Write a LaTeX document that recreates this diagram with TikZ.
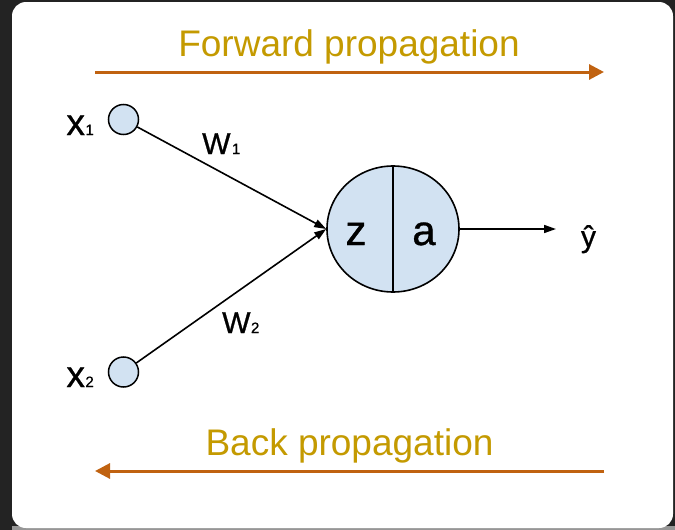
\documentclass[tikz,border=0pt]{standalone}
\usepackage{fontspec}
\setmainfont{Liberation Sans}
\newfontfamily\labfont[FakeBold=0.8]{Liberation Sans}
\usetikzlibrary{arrows.meta,shapes.geometric}
\definecolor{framedark}{RGB}{35,35,35}
\definecolor{framegray}{RGB}{150,150,150}
\definecolor{propgold}{RGB}{196,154,0}
\definecolor{proporange}{RGB}{192,98,16}
\definecolor{cellblue}{RGB}{210,226,242}
\newcommand{\smallsub}[1]{{\fontsize{15pt}{15pt}\selectfont #1}}
\tikzset{
  innode/.style={circle, draw, fill=cellblue, line width=1.5pt, minimum size=30pt, inner sep=0pt},
  neuron/.style={ellipse, draw, fill=cellblue, line width=1.6pt, minimum width=132pt, minimum height=126pt, inner sep=0pt},
  wire/.style={line width=1.6pt, -{Triangle[length=12pt,width=8pt]}},
  proparrow/.style={proporange, line width=3pt, -{Triangle[length=15pt,width=15pt]}},
  proptext/.style={propgold, font=\fontsize{37pt}{40pt}\selectfont, anchor=base, inner sep=0pt},
  labtext/.style={inner sep=0pt},
}
\begin{document}
\begin{tikzpicture}[x=1pt, y=-1pt]
    \useasboundingbox (0,0) rectangle (675,530);
    % frame round the white card
    \fill[framedark] (0,0) rectangle (675,530);
    \fill[framegray] (12,526) rectangle (675,530);
    \fill[white, rounded corners=14pt] (12,2) rectangle (673,528);

    % forward / back propagation
    \path (349,56) node[proptext] (fwdtext) {Forward propagation};
    \coordinate (fwdA) at (95,72);
    \coordinate (fwdB) at (604,72);
    \draw[proparrow] (fwdA) -- (fwdB);

    \path (349.5,455) node[proptext] (backtext) {Back propagation};
    \coordinate (backA) at (604,471);
    \coordinate (backB) at (95,471);
    \draw[proparrow] (backA) -- (backB);

    % inputs --- access them as x1, x2
    \foreach \i/\y/\b in {1/119.5/135, 2/372/387}
    {
      \node[innode] (x\i) at (123.5,\y) {};
      \path (94,\b) node[labtext, anchor=base east, font=\labfont\fontsize{37pt}{40pt}\selectfont] (lx\i) {x\kern0.5pt\smallsub{\i}};
    }

    % the neuron, split in z | a
    \node[neuron] (cell) at (393,229) {};
    \draw[line width=1.6pt] (cell.north) -- (cell.south);
    \path (356,245) node[labtext, anchor=base, font=\labfont\fontsize{42pt}{44pt}\selectfont] (zlab) {z};
    \path (424,245) node[labtext, anchor=base, font=\labfont\fontsize{42pt}{44pt}\selectfont] (alab) {a};

    % weights
    \draw[wire] (x1) -- (cell.west);
    \draw[wire] (x2) -- (cell.west);
    \path (202,154) node[labtext, anchor=base west, font=\labfont\fontsize{30pt}{32pt}\selectfont] (lw1) {W\kern1.5pt\smallsub{1}};
    \path (222,333) node[labtext, anchor=base west, font=\labfont\fontsize{30pt}{32pt}\selectfont] (lw2) {W\kern0.5pt\smallsub{2}};

    % output
    \path (588.5,247) node[labtext, anchor=base, font=\labfont\fontsize{30pt}{32pt}\selectfont] (yhat) {ŷ};
    \coordinate (outend) at (556,229);
    \draw[wire] (cell.east) -- (outend);
\end{tikzpicture}
\end{document}
